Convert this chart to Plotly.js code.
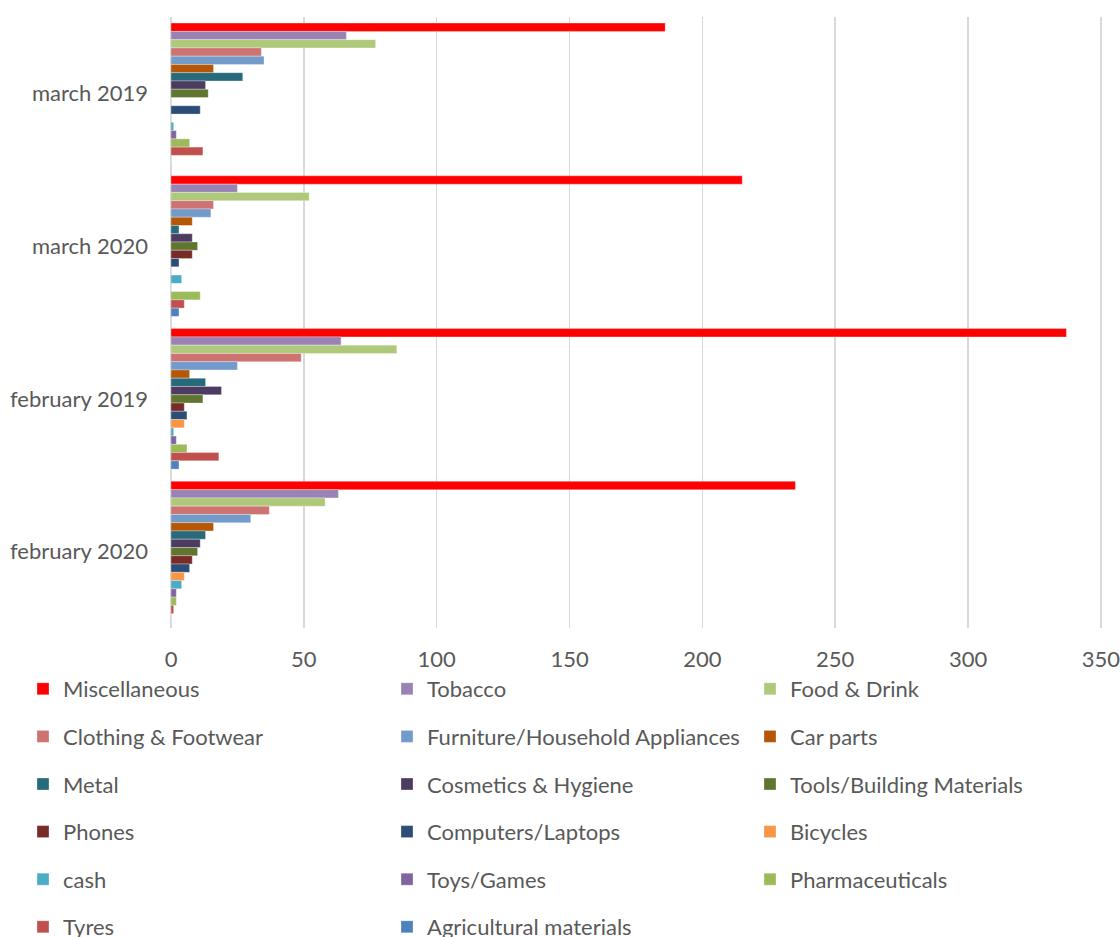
<!DOCTYPE html>
<html>
<head>
<meta charset="utf-8">
<script src="https://cdn.plot.ly/plotly-3.0.1.min.js"></script>
<style>
  html, body { margin: 0; padding: 0; background: #ffffff; }
  #chart { width: 1120px; height: 937px; }
</style>
</head>
<body>
<div id="chart"></div>
<script>
// Periods shown on the category axis (top to bottom)
const categories = ['march 2019', 'march 2020', 'february 2019', 'february 2020'];

// Counts per goods type, in the same period order as above
const miscellaneous   = [186, 215, 337, 235];
const tobacco         = [66, 25, 64, 63];
const foodDrink       = [77, 52, 85, 58];
const clothing        = [34, 16, 49, 37];
const furniture       = [35, 15, 25, 30];
const carParts        = [16, 8, 7, 16];
const metal           = [27, 3, 13, 13];
const cosmetics       = [13, 8, 19, 11];
const tools           = [14, 10, 12, 10];
const phones          = [0, 8, 5, 8];
const computers       = [11, 3, 6, 7];
const bicycles        = [0, 0, 5, 5];
const cash            = [1, 4, 1, 4];
const toys            = [2, 0, 2, 2];
const pharmaceuticals = [7, 11, 6, 2];
const tyres           = [12, 5, 18, 1];
const agricultural    = [0, 3, 3, 0];

const seriesNames = [
  'Miscellaneous', 'Tobacco', 'Food & Drink',
  'Clothing & Footwear', 'Furniture/Household Appliances', 'Car parts',
  'Metal', 'Cosmetics & Hygiene', 'Tools/Building Materials',
  'Phones', 'Computers/Laptops', 'Bicycles',
  'cash', 'Toys/Games', 'Pharmaceuticals',
  'Tyres', 'Agricultural materials'
];
const seriesValues = [
  miscellaneous, tobacco, foodDrink,
  clothing, furniture, carParts,
  metal, cosmetics, tools,
  phones, computers, bicycles,
  cash, toys, pharmaceuticals,
  tyres, agricultural
];
const seriesColors = [
  '#FF0000', '#9983B5', '#AFC97A',
  '#CD7371', '#729ACA', '#B65708',
  '#276A7C', '#4D3B62', '#5F7530',
  '#772C2A', '#2C4D75', '#F79646',
  '#4BACC6', '#8064A2', '#9BBB59',
  '#C0504D', '#4F81BD'
];

// Legend laid out as three columns, filled row by row
const legendIds = ['legend', 'legend2', 'legend3'];

const traces = seriesNames.map((name, i) => ({
  type: 'bar',
  orientation: 'h',
  name: name,
  y: categories,
  x: seriesValues[i],
  marker: { color: seriesColors[i], line: { color: 'rgba(255,255,255,0.5)', width: 0.6 } },
  legend: legendIds[i % 3],
  legendgroup: 'g' + i,
  hoverinfo: 'x+name'
}));

const textColor = '#595959';
const fontFamily = 'Lato, "Open Sans", sans-serif';
const legendFont = { family: fontFamily, size: 22, color: textColor };

function legendAt(xPx) {
  return {
    xref: 'container', yref: 'container',
    x: xPx / 1120, y: 1 - 668 / 937,
    xanchor: 'left', yanchor: 'top',
    orientation: 'v',
    traceorder: 'grouped',
    tracegroupgap: 16,
    font: legendFont,
    bgcolor: 'rgba(0,0,0,0)',
    itemclick: false
  };
}

const layout = {
  width: 1120,
  height: 937,
  margin: { l: 171, r: 18, t: 17, b: 309, autoexpand: false },
  paper_bgcolor: '#ffffff',
  plot_bgcolor: '#ffffff',
  barmode: 'group',
  bargap: 0.08,
  bargroupgap: 0,
  font: { family: fontFamily, size: 22, color: textColor },
  xaxis: {
    range: [0, 350.4],
    dtick: 50,
    tick0: 0,
    showgrid: true,
    gridcolor: '#D9D9D9',
    gridwidth: 1.5,
    zeroline: true,
    zerolinecolor: '#D9D9D9',
    zerolinewidth: 1.5,
    showline: false,
    ticks: '',
    ticklabelstandoff: 16,
    ticklabeloverflow: 'allow',
    tickfont: { size: 22, color: textColor }
  },
  yaxis: {
    type: 'category',
    categoryorder: 'array',
    categoryarray: categories,
    autorange: 'reversed',
    showgrid: false,
    showline: false,
    ticks: '',
    ticklabelstandoff: 22,
    tickfont: { size: 22, color: textColor }
  },
  showlegend: true,
  legend: legendAt(23),
  legend2: legendAt(387),
  legend3: legendAt(750)
};

Plotly.newPlot('chart', traces, layout, { displayModeBar: false, staticPlot: true });
</script>
</body>
</html>
